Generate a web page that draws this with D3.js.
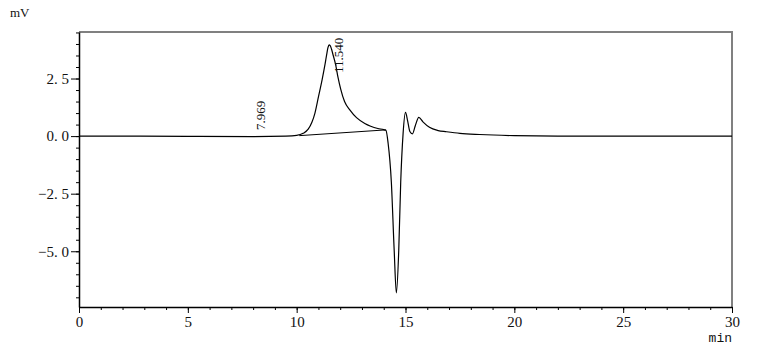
<!DOCTYPE html>
<html>
<head>
<meta charset="utf-8">
<script src="https://cdn.jsdelivr.net/npm/d3@7"></script>
<style>
  body { margin: 0; background: #fff; }
  text { font-family: "Liberation Serif", serif; fill: #111; }
</style>
</head>
<body>
<script>
const w = 765;
const h = 356;
const margin = {top: 32, right: 33, bottom: 49, left: 79};

// chromatogram trace (min, mV)
const times = [0, 2, 5, 8, 9.5, 10.0, 10.3, 10.53, 10.7, 10.84, 11.0, 11.17, 11.3, 11.38, 11.44, 11.49,
  11.54, 11.6, 11.68, 11.79, 11.9, 12.02, 12.2, 12.45, 12.75, 13.13, 13.4, 13.73, 14.0, 14.1, 14.2,
  14.35, 14.48, 14.58, 14.69, 14.78, 14.89, 15.0, 15.1, 15.2, 15.32, 15.45, 15.61, 15.8, 16.1,
  16.5, 16.88, 17.5, 18.4, 20, 22, 25, 30];
const signal = [0, 0, -0.01, -0.02, 0, 0.03, 0.12, 0.3, 0.6, 1.0, 1.7, 2.45, 3.1, 3.55, 3.85, 3.96,
  3.93, 3.78, 3.5, 3.1, 2.55, 2.05, 1.5, 1.13, 0.8, 0.55, 0.43, 0.33, 0.28, 0.25, -0.3,
  -2.0, -4.96, -6.81, -4.96, -2.0, 0.12, 1.03, 0.65, 0.2, 0.1, 0.45, 0.81, 0.62, 0.38,
  0.24, 0.19, 0.12, 0.07, 0.02, 0, 0, 0];

// integration baseline under the main peak
const baseTimes = [10.12, 14.1];
const baseValues = [0.02, 0.27];

// peak labels
const peakTimes = ["7.969", "11.540"];
const peakLabelLevels = [0.26, 2.74];

const xTicks = [0, 5, 10, 15, 20, 25, 30];
const yTicks = [-5.0, -2.5, 0.0, 2.5];

const svg = d3.select("body").append("svg")
  .attr("width", w)
  .attr("height", h);

const x = d3.scaleLinear().domain([0, 30]).range([margin.left, w - margin.right]);
const y = d3.scaleLinear().domain([-7.42, 4.52]).range([h - margin.bottom, margin.top]);

// grey frame top/right
svg.append("path")
  .attr("d", `M${x(0)},${y(4.52)}H${x(30)}V${y(-7.42)}`)
  .attr("fill", "none")
  .attr("stroke", "#808080")
  .attr("stroke-width", 2);

// x axis: minor then major
svg.append("g")
  .attr("transform", `translate(0,${y(-7.42)})`)
  .call(d3.axisBottom(x).tickValues(d3.range(0, 31, 1)).tickSize(3).tickFormat(""))
  .call(g => g.select(".domain").remove());
svg.append("g")
  .attr("transform", `translate(0,${y(-7.42)})`)
  .call(d3.axisBottom(x).tickValues(xTicks).tickSize(6).tickSizeOuter(0).tickPadding(3))
  .call(g => g.selectAll("text").style("font-size", "15px"));

// y axis
svg.append("g")
  .attr("transform", `translate(${x(0)},0)`)
  .call(d3.axisLeft(y).tickValues(d3.range(-7, 4.6, 0.5)).tickSize(3).tickFormat(""))
  .call(g => g.select(".domain").remove());
svg.append("g")
  .attr("transform", `translate(${x(0)},0)`)
  .call(d3.axisLeft(y).tickValues(yTicks).tickSize(8).tickSizeOuter(0).tickPadding(2)
    .tickFormat(d => d3.format(".1f")(d).replace("-", "\u2212").replace(".", ". ")))
  .call(g => g.selectAll("text").style("font-size", "15px").style("white-space", "pre"));

svg.selectAll(".domain").attr("stroke", "#000").attr("stroke-width", 1.5);

// trace
const pts = times.map((t, i) => [t, signal[i]]);
const line = d3.line()
  .x(d => x(d[0]))
  .y(d => y(d[1]))
  .curve(d3.curveMonotoneX);
svg.append("path")
  .datum(pts)
  .attr("fill", "none")
  .attr("stroke", "#000")
  .attr("stroke-width", 1.2)
  .attr("d", line);

// baseline
svg.append("line")
  .attr("x1", x(baseTimes[0])).attr("y1", y(baseValues[0]))
  .attr("x2", x(baseTimes[1])).attr("y2", y(baseValues[1]))
  .attr("stroke", "#000").attr("stroke-width", 1);

// peak labels, rotated
peakTimes.forEach((p, i) => {
  const px = x(+p) + 13;
  const py = y(peakLabelLevels[i]);
  svg.append("text")
    .attr("transform", `translate(${px},${py}) rotate(-90)`)
    .style("font-size", "13px")
    .text(p);
});

// unit labels
svg.append("text").attr("x", 10).attr("y", 17).style("font-size", "13px").text("mV");
svg.append("text").attr("x", x(30)).attr("y", 342).style("font-size", "13px")
  .attr("text-anchor", "end").style("font-family", "Liberation Mono").text("min");
</script>
</body>
</html>
